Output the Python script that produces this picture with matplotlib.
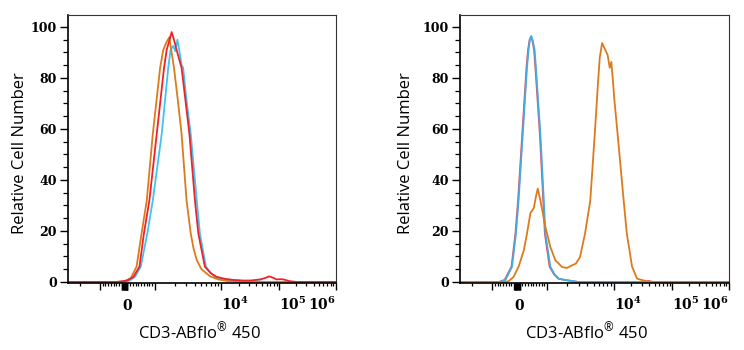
import numpy as np
import matplotlib
matplotlib.use("Agg")
import matplotlib.pyplot as plt
import matplotlib.transforms as mtransforms

plt.rcParams.update({
    "mathtext.fontset": "custom",
    "mathtext.rm": "Open Sans",
    "mathtext.it": "Open Sans:italic",
    "mathtext.bf": "Open Sans:bold",
})

# ---------------- data (x in display channels 0-1024, y = relative cell number) ----------------
left_orange_x = [0, 180, 215, 240, 262, 281, 301, 324, 352, 364, 376, 387, 396, 405, 420, 434, 453, 469, 480, 492, 510, 543, 575, 608, 650, 700, 1024]
left_orange_y = [0, 0, 0.3, 1.5, 6, 19, 32, 58, 84, 91, 94, 96, 90, 84, 71, 58, 32, 19, 13, 8.6, 5, 2.2, 1, 0.4, 0.2, 0, 0]

left_red_x = [0, 190, 225, 250, 273, 290, 311, 339, 367, 377, 388, 396, 405, 415, 434, 464, 485, 498, 523, 545, 568, 600, 631, 669, 700, 734, 752, 769, 785, 797, 810, 823, 848, 874, 900, 1024]
left_red_y = [0, 0, 0.5, 2, 6, 19, 32, 58, 84, 91, 95, 98, 95, 91, 84, 58, 32, 19, 6, 3.5, 2, 1.2, 0.8, 0.5, 0.6, 1, 1.5, 2.2, 1.6, 1, 1.1, 1, 0.3, 0, 0, 0]

left_blue_x = [0, 200, 235, 256, 278, 303, 324, 358, 383, 392, 402, 410, 418, 425, 434, 440, 453, 469, 492, 504, 527, 545, 562, 594, 630, 657, 700, 734, 760, 1024]
left_blue_y = [0, 0, 0.5, 2, 6, 19, 32, 58, 84, 91, 92.6, 90.5, 95, 91, 85, 84, 71, 58, 32, 19, 6, 3.5, 2, 1.2, 0.8, 0.6, 0.4, 0.2, 0, 0]

right_blue_x = [0, 150, 173, 198, 213, 223, 239, 255, 261, 266, 271, 276, 284, 289, 306, 319, 325, 344, 360, 376, 400, 426, 452, 1024]
right_blue_y = [0, 0, 0.8, 6, 19, 32, 58, 84, 91, 95, 96.5, 95, 91, 84, 58, 32, 19, 6, 3, 1.3, 0.8, 0.4, 0, 0]

right_red_x = [0, 148, 170, 196, 211, 221, 237, 253, 259, 265, 270, 275, 282, 287, 304, 317, 323, 341, 358, 374, 398, 424, 450, 700, 718, 736, 1024]
right_red_y = [0, 0, 0.8, 6, 19, 32, 58, 84, 91, 95, 96, 95, 91, 84, 58, 32, 19, 6, 3, 1.3, 0.8, 0.4, 0, 0, 0.4, 0, 0]

right_orange_x = [0, 170, 185, 204, 223, 243, 255, 268, 281, 290, 296, 306, 325, 344, 363, 376, 388, 407, 426, 441, 457, 476, 496, 513, 525, 532, 541, 553, 562, 570, 576, 581, 588, 600, 623, 635, 655, 674, 706, 731, 1024]
right_orange_y = [0, 0, 0.3, 2, 6, 12.4, 19, 27, 29, 34, 36.6, 32, 21.6, 13.7, 8.5, 7.2, 5.9, 5.5, 6.5, 7.2, 9.8, 19, 32, 58, 77.6, 88, 93.7, 91, 89, 84, 86.3, 80.4, 71, 58, 32, 19, 6, 1.3, 0.4, 0, 0]

y_ticks = [0, 20, 40, 60, 80, 100]
x_major_values = [-1e3, 0, 1e3, 1e4, 1e5, 1e6]
x_label_values = [0, 1e4, 1e5, 1e6]
x_label_texts = ["0", r"$\mathbf{10^{4}}$", r"$\mathbf{10^{5}}$", r"$\mathbf{10^{6}}$"]

x_label = r"CD3-ABflo$^{\mathrm{®}}$ 450"
y_label = "Relative Cell Number"

RED = "#ee2229"
ORANGE = "#dd7a1c"
BLUE = "#3fc4f0"
BLUE_R = "#45ace0"
RED_R = "#e0506a"


# ---------------- axis transform helpers (biexponential-like display) ----------------
def to_channel(v):
    if abs(v) <= 1e3:
        return 227 + 105 * v / 1e3
    if v > 0:
        return float(np.interp(np.log10(v), [3, 4, 5, 6], [332, 585, 808, 1024]))
    return 122 - 253 * np.log10(-v / 1e3)


minor_values = [-2e3] + [k * 100 for k in range(-9, 10) if k != 0] + \
    [m * 10 ** n for n in (3, 4, 5) for m in range(2, 10)]
block_values = list(range(-200, 1, 20))

fig = plt.figure(figsize=(7.44, 3.5), dpi=100)
axL = fig.add_axes([68 / 744, 67 / 350, 268 / 744, 268 / 350])
axR = fig.add_axes([460 / 744, 67 / 350, 269 / 744, 268 / 350])

serif = dict(family="DejaVu Serif", weight="bold")


def style(ax, ylab_x, xlab_x):
    ax.set_xlim(0, 1024)
    ax.set_ylim(-0.4, 104.7)
    for s in ("left", "bottom"):
        ax.spines[s].set_linewidth(1.2)
        ax.spines[s].set_color("black")
    for s in ("top", "right"):
        ax.spines[s].set_linewidth(0.8)
        ax.spines[s].set_color("#333333")
    ax.set_yticks(y_ticks)
    ax.set_yticks(list(range(0, 105, 5)), minor=True)
    ax.set_yticklabels([str(t) for t in y_ticks], fontdict=dict(family="DejaVu Serif", weight="bold", size=9))
    ax.tick_params(axis="y", which="major", length=6, width=1, pad=2, direction="out")
    ax.tick_params(axis="y", which="minor", length=3.5, width=0.9, direction="out")
    ax.set_xticks([to_channel(v) for v in x_major_values + block_values])
    ax.set_xticks([to_channel(v) for v in minor_values], minor=True)
    ax.tick_params(axis="x", which="major", length=5, width=1, labelbottom=False, direction="out")
    ax.tick_params(axis="x", which="minor", length=2.5, width=0.9, direction="out")
    trans = mtransforms.blended_transform_factory(ax.transData, ax.transAxes)
    for v, t in zip(x_label_values, x_label_texts):
        if v == 0:
            ha = "center"
        elif v == 1e6:
            ha = "right"
        else:
            ha = "left"
        ax.text(to_channel(v), -0.10, t, transform=trans, ha=ha, va="baseline",
                fontsize=10, math_fontfamily="dejavuserif", **serif)
    ax.text(xlab_x, -0.183, x_label, transform=ax.transAxes, ha="center", va="center",
            family="Open Sans", fontsize=12, math_fontfamily="custom")
    ax.text(ylab_x, 0.483, y_label, transform=ax.transAxes, ha="center", va="center",
            rotation=90, family="Open Sans", fontsize=12)


lw = 1.3
axL.plot(left_blue_x, left_blue_y, color=BLUE, lw=lw)
axL.plot(left_orange_x, left_orange_y, color=ORANGE, lw=lw)
axL.plot(left_red_x, left_red_y, color=RED, lw=lw)
style(axL, -0.179, 0.491)

axR.plot(right_red_x, right_red_y, color=RED_R, lw=lw)
axR.plot(right_blue_x, right_blue_y, color=BLUE_R, lw=lw)
axR.plot(right_orange_x, right_orange_y, color=ORANGE, lw=lw)
style(axR, -0.20, 0.470)

fig.savefig("out.png", dpi=100)
